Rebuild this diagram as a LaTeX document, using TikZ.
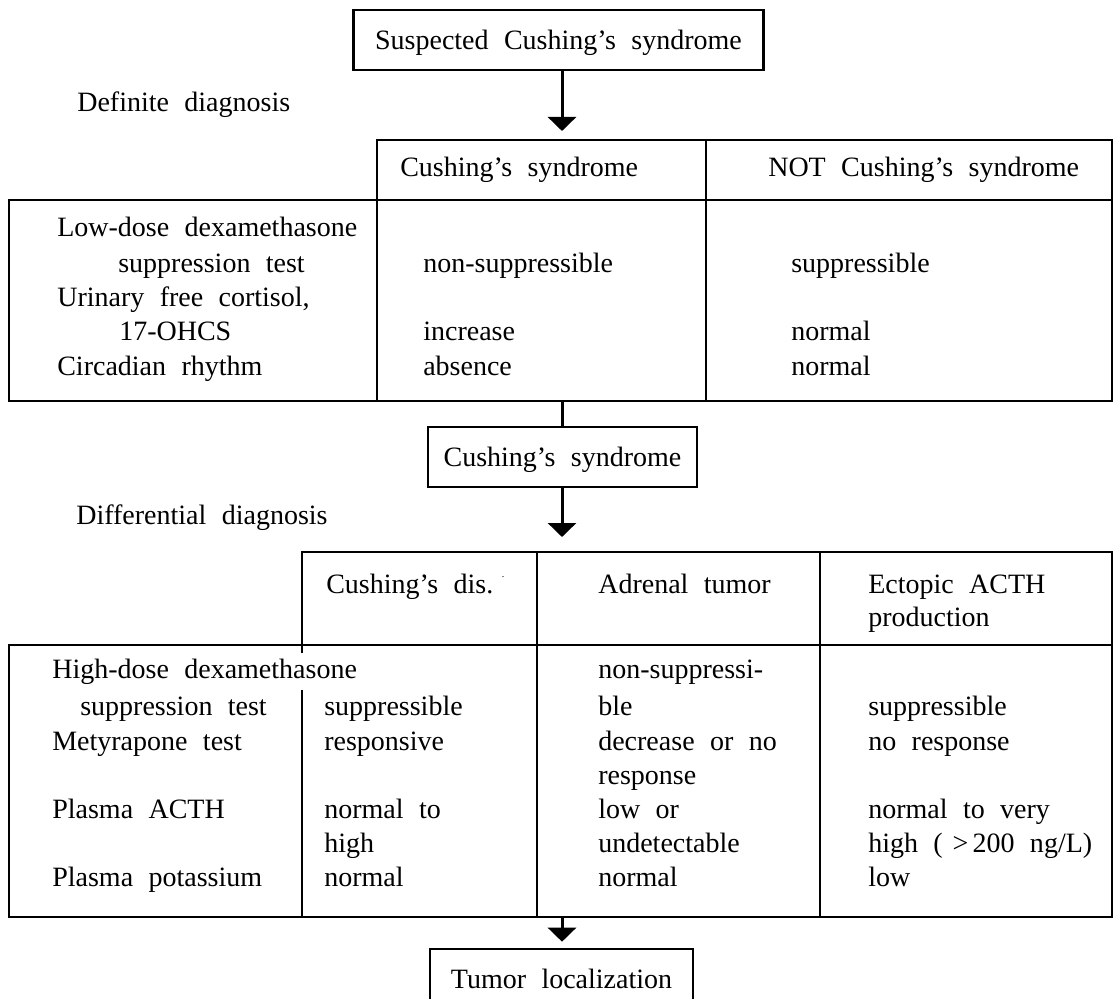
\documentclass[tikz,border=0pt]{standalone}
\usepackage{fontspec}
\setmainfont{Liberation Serif}[WordSpace=2.2]
\usetikzlibrary{arrows.meta}
\begin{document}
\begin{tikzpicture}[x=0.5pt,y=-0.5pt,line width=1.3pt,
  every node/.style={font=\fontsize{14pt}{16pt}\selectfont},
  txt/.style={anchor=base west,inner sep=0pt},
  box/.style={draw,inner sep=0pt,text depth=0pt},
  arr/.style={-{Triangle[length=7pt,width=14pt]},line width=1.5pt}]
\useasboundingbox (0,0) rectangle (1117,999);
\clip (0,0) rectangle (1117,999);

% boxes
\node[box,minimum width=205pt,minimum height=30pt] (suspect) at (558.5,40) {Suspected Cushing's syndrome};
\node[box,minimum width=134.5pt,minimum height=30pt] (cushing) at (562.5,457) {Cushing's syndrome};
\node[box,minimum width=131.5pt,minimum height=30pt] (tumor) at (561.5,979) {Tumor localization};

% definite diagnosis table
\node[txt] (defdiag) at (76,112) {Definite diagnosis};
\draw (377,140) rectangle (1112,200);
\draw (9,200) rectangle (1112,401);
\draw (377,200) -- (377,401);
\draw (706,140) -- (706,401);
\coordinate (defin) at (562,140);
\coordinate (defout) at (562,401);
\node[txt] (defh1) at (399,177) {Cushing's syndrome};
\node[txt] (defh2) at (767,177) {NOT Cushing's syndrome};
\foreach \x/\y/\t [count=\i] in {56/237/Low-dose dexamethasone, 117/273/suppression test,
    56/307/{Urinary free cortisol,}, 118/341/17-OHCS, 56/376/Circadian rhythm}
  \node[txt] (defa\i) at (\x,\y) {\t};
\foreach \y/\t [count=\i] in {273/non-suppressible, 341/increase, 376/absence}
  \node[txt] (defb\i) at (422,\y) {\t};
\foreach \y/\t [count=\i] in {273/suppressible, 341/normal, 376/normal}
  \node[txt] (defc\i) at (790,\y) {\t};

% differential diagnosis table
\node[txt] (difdiag) at (75,524) {Differential diagnosis};
\draw (302,653) -- (302,552) -- (1112,552) -- (1112,645);
\draw (9,645) rectangle (1112,917);
\draw (302,690) -- (302,917);
\draw (537,552) -- (537,917);
\draw (820,552) -- (820,917);
\coordinate (difin) at (562,552);
\coordinate (difout) at (562,917);
\node[txt] (difh1) at (325,593) {Cushing's dis.\hspace{0.3em}\raisebox{0.55em}{\tiny .}};
\node[txt] (difh2) at (597,593) {Adrenal tumor};
\node[txt] (difh3) at (867,593) {Ectopic ACTH};
\node[txt] (difh4) at (867,626) {production};
\foreach \x/\y/\t [count=\i] in {51/678/High-dose dexamethasone, 79/715/suppression test,
    51/750/Metyrapone test, 51/818/Plasma ACTH, 51/886/Plasma potassium}
  \node[txt] (difa\i) at (\x,\y) {\t};
\foreach \y/\t [count=\i] in {715/suppressible, 750/responsive, 818/normal to, 852/high, 886/normal}
  \node[txt] (difb\i) at (323,\y) {\t};
\foreach \y/\t [count=\i] in {678/non-suppressi-, 715/ble, 750/decrease or no, 784/response,
    818/low or, 852/undetectable, 886/normal}
  \node[txt] (difc\i) at (597,\y) {\t};
\foreach \y/\t [count=\i] in {715/suppressible, 750/no response, 818/normal to very,
    852/{high (\hspace{0.35em}>\hspace{0.15em}200 ng/L)}, 886/low}
  \node[txt] (difd\i) at (867,\y) {\t};

% connectors
\draw[arr,shorten >=4.5pt] (suspect.south -| defin) -- (defin);
\draw[line width=1.5pt] (defout) -- (defout |- cushing.north);
\draw[arr,shorten >=7.5pt] (cushing.south -| difin) -- (difin);
\draw[arr,shorten >=3pt] (difout) -- (difout |- tumor.north);

\end{tikzpicture}
\end{document}
